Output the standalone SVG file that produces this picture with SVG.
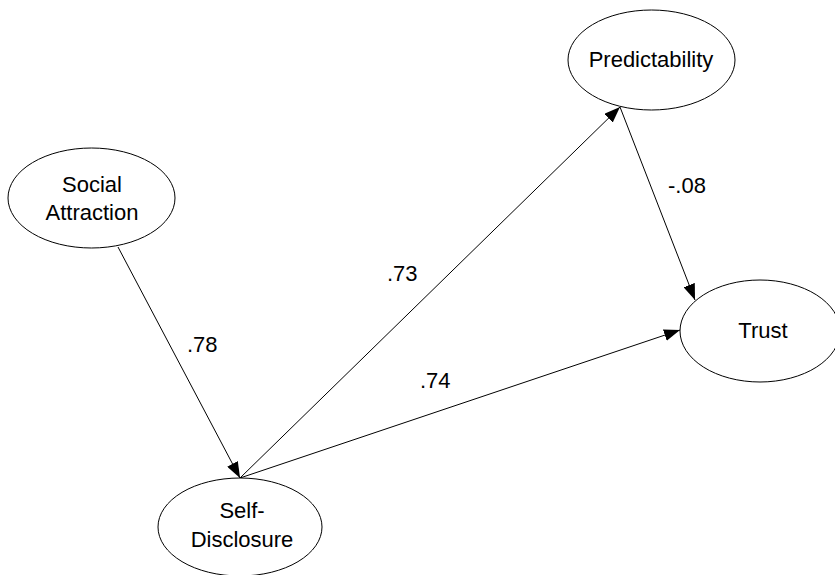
<svg xmlns="http://www.w3.org/2000/svg" width="835" height="575" viewBox="0 0 835 575">
<style>
.node ellipse{fill:#fff;stroke:#000;stroke-width:1}
text{font-family:"Liberation Sans",Arial,sans-serif;font-size:22px;fill:#000}
.node text{text-anchor:middle}
.edge{stroke:#000;stroke-width:1;fill:none;marker-end:url(#arr)}
</style>
<defs>
<marker id="arr" markerUnits="userSpaceOnUse" markerWidth="16" markerHeight="12" viewBox="0 0 16 12" refX="16" refY="6" orient="auto">
<path d="M0,0 L16,6 L0,12 Z" fill="#000"/>
</marker>
</defs>
<rect width="835" height="575" fill="#fff"/>
<g id="connectors">
<line class="edge" x1="118" y1="247" x2="240" y2="478"/>
<line class="edge" x1="240" y1="478" x2="620" y2="107"/>
<line class="edge" x1="620" y1="107" x2="695" y2="300"/>
<line class="edge" x1="240" y1="478" x2="680" y2="330"/>
<text x="187" y="352">.78</text>
<text x="387" y="281">.73</text>
<text x="420" y="388">.74</text>
<text x="668" y="193">-.08</text>
</g>
<g id="social-attraction" class="node">
<ellipse cx="91.5" cy="198" rx="83.5" ry="50"/>
<text x="92" y="192">Social</text>
<text x="92" y="220">Attraction</text>
</g>
<g id="self-disclosure" class="node">
<ellipse cx="240" cy="527" rx="82" ry="49"/>
<text x="242" y="518">Self-</text>
<text x="242" y="547">Disclosure</text>
</g>
<g id="predictability" class="node">
<ellipse cx="651.5" cy="60" rx="83.5" ry="50"/>
<text x="651" y="67">Predictability</text>
</g>
<g id="trust" class="node">
<ellipse cx="760" cy="331" rx="80" ry="51"/>
<text x="763" y="338">Trust</text>
</g>
</svg>
